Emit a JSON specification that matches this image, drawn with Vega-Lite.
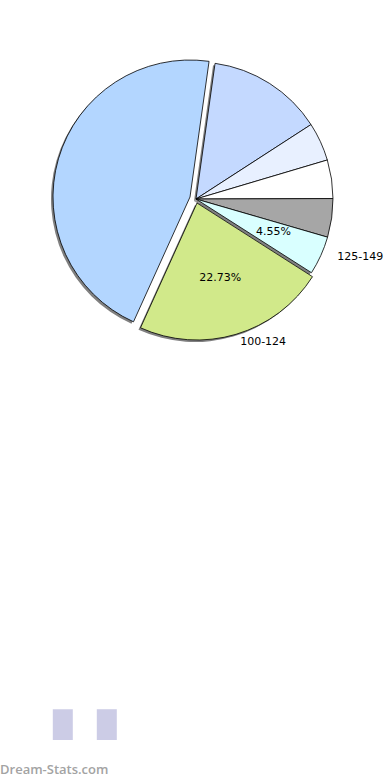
{
  "$schema": "https://vega.github.io/schema/vega-lite/v6.json",
  "padding": 0,
  "spacing": 0,
  "background": "white",
  "config": {"view": {"stroke": null}, "font": "DejaVu Sans"},
  "title": {"text": "Dream-Stats.com", "orient": "bottom", "anchor": "start", "font": "Open Sans", "fontSize": 13, "fontWeight": 600, "color": "#a3a3a3", "offset": 24},
  "datasets": {
    "pie": [
      {"i": 1, "name": "s1", "n": 3, "pct": "", "range": ""},
      {"i": 2, "name": "s2", "n": 1, "pct": "", "range": ""},
      {"i": 3, "name": "s3", "n": 1, "pct": "", "range": ""},
      {"i": 4, "name": "s4", "n": 1, "pct": "", "range": ""},
      {"i": 5, "name": "125-149", "n": 1, "pct": "4.55%", "range": "125-149"},
      {"i": 6, "name": "100-124", "n": 5, "pct": "22.73%", "range": "100-124"},
      {"i": 7, "name": "s7", "n": 10, "pct": "", "range": ""}
    ],
    "bars": [
      {"k": "1", "v": 9},
      {"k": "2", "v": 9}
    ]
  },
  "vconcat": [
    {
      "width": 392,
      "height": 398,
      "data": {"name": "pie"},
      "encoding": {
        "theta": {"field": "n", "type": "quantitative", "stack": true, "scale": {"range": [0.1396, 6.4228]}},
        "order": {"field": "i", "type": "quantitative"}
      },
      "layer": [
        {
          "mark": {"type": "arc", "outerRadius": 137, "fill": "#808080", "xOffset": -2, "yOffset": 2},
          "encoding": {"fillOpacity": {"condition": {"test": "datum.name !== 's7' && datum.name !== '100-124'", "value": 1}, "value": 0}}
        },
        {
          "mark": {"type": "arc", "outerRadius": 137, "fill": "#808080", "xOffset": -8, "yOffset": 0},
          "encoding": {"fillOpacity": {"condition": {"test": "datum.name === 's7'", "value": 1}, "value": 0}}
        },
        {
          "mark": {"type": "arc", "outerRadius": 137, "fill": "#808080", "xOffset": -1, "yOffset": 6},
          "encoding": {"fillOpacity": {"condition": {"test": "datum.name === '100-124'", "value": 1}, "value": 0}}
        },
        {
          "mark": {"type": "arc", "outerRadius": 137, "stroke": "#000000", "strokeWidth": 0.8},
          "encoding": {
            "color": {"field": "name", "type": "nominal", "legend": null, "sort": null,
              "scale": {"domain": ["s1", "s2", "s3", "s4", "125-149", "100-124", "s7"], "range": ["#c4d9ff", "#e8f0ff", "#ffffff", "#a6a6a6", "#d9ffff", "#d1e98a", "#b3d6ff"]}},
            "opacity": {"condition": {"test": "datum.name !== 's7' && datum.name !== '100-124'", "value": 1}, "value": 0}
          }
        },
        {
          "mark": {"type": "arc", "outerRadius": 137, "stroke": "#000000", "strokeWidth": 0.8, "xOffset": -6, "yOffset": -2},
          "encoding": {
            "color": {"field": "name", "type": "nominal", "legend": null, "sort": null},
            "opacity": {"condition": {"test": "datum.name === 's7'", "value": 1}, "value": 0}
          }
        },
        {
          "mark": {"type": "arc", "outerRadius": 137, "stroke": "#000000", "strokeWidth": 0.8, "xOffset": 1, "yOffset": 4},
          "encoding": {
            "color": {"field": "name", "type": "nominal", "legend": null, "sort": null},
            "opacity": {"condition": {"test": "datum.name === '100-124'", "value": 1}, "value": 0}
          }
        },
        {
          "mark": {"type": "text", "radius": 85, "dy": -2, "fontSize": 11, "font": "DejaVu Sans", "color": "#000000"},
          "encoding": {"text": {"field": "pct", "type": "nominal"}}
        },
        {
          "mark": {"type": "text", "radius": 155, "dy": -6, "fontSize": 11, "font": "DejaVu Sans", "color": "#000000", "align": "left", "baseline": "middle"},
          "encoding": {"text": {"field": "range", "type": "nominal"}}
        }
      ]
    },
    {
      "width": 152,
      "height": 342,
      "data": {"name": "bars"},
      "mark": {"type": "bar", "color": "#ccccE6"},
      "encoding": {
        "x": {"field": "k", "type": "nominal", "axis": null, "scale": {"paddingInner": 0.5454, "paddingOuter": 1, "align": 0.6}},
        "y": {"field": "v", "type": "quantitative", "axis": null, "scale": {"domain": [0, 100]}}
      }
    }
  ]
}
